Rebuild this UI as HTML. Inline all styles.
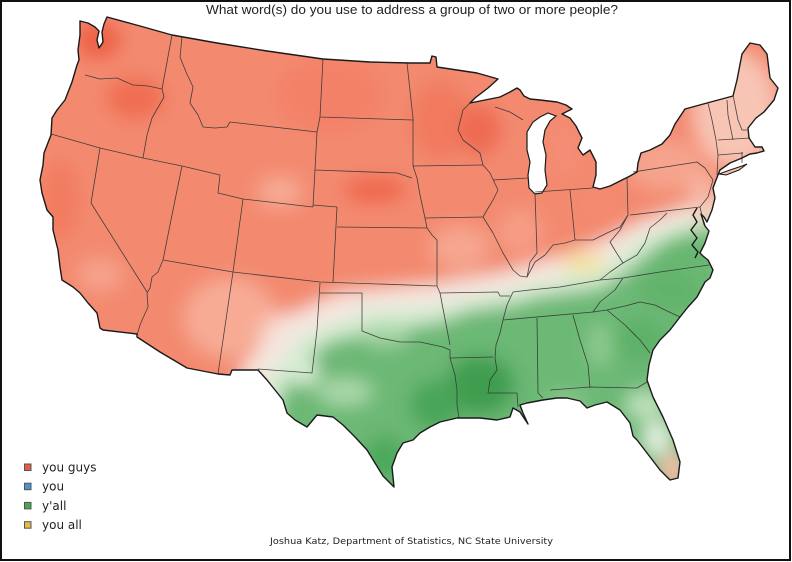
<!DOCTYPE html>
<html><head><meta charset="utf-8"><style>
html,body{margin:0;padding:0;background:#fff;}
svg{display:block;}
</style></head><body>
<svg width="792" height="562" viewBox="0 0 792 562" xmlns="http://www.w3.org/2000/svg">
<defs>
<clipPath id="us"><path id="usp" d="M80,21 L88,23 L95,27 L99,31 L97,40 L99,48 L103,42 L102,32 L104,24 L107,17 L140,26 L172,35 L217,43 L267,51 L323,59 L370,62 L410,63 L430,63 L432,56 L436,57 L437,67 L457,70 L477,73 L498,79 L488,88 L475,98 L470,103 L480,101 L500,97 L510,92 L517,88 L520,90 L524,96 L530,99 L540,100 L557,102 L566,105 L572,109 L562,114 L570,118 L576,126 L582,138 L578,148 L583,155 L590,150 L596,162 L596,175 L593,187 L600,189 L610,186 L620,181 L630,176 L637,172 L638,163 L641,153 L650,150 L662,144 L670,135 L675,124 L685,109 L707,103 L733,96 L737,80 L742,54 L750,43 L760,45 L767,54 L770,78 L778,88 L774,100 L764,112 L756,118 L748,128 L749,138 L755,147 L762,147 L764,151 L757,153 L750,154 L742,158 L730,163 L720,170 L716,180 L713,188 L715,198 L712,210 L707,222 L704,217 L701,214 L705,226 L709,231 L705,243 L700,253 L703,256 L708,260 L713,270 L710,278 L705,282 L697,297 L688,307 L680,317 L670,330 L660,340 L653,350 L649,365 L647,380 L653,397 L663,417 L673,440 L680,462 L678,478 L670,480 L660,470 L647,453 L637,440 L633,436 L630,423 L620,410 L607,402 L595,405 L587,408 L580,401 L567,398 L557,398 L543,400 L527,403 L520,405 L523,413 L528,424 L520,412 L513,408 L510,417 L497,420 L480,418 L457,418 L440,422 L430,427 L420,433 L413,440 L403,443 L397,453 L392,467 L394,487 L383,476 L375,463 L367,450 L355,437 L343,425 L333,417 L317,415 L307,427 L295,420 L287,413 L283,400 L275,390 L267,380 L258,370 L232,370 L230,375 L218,374 L187,368 L160,352 L137,337 L137,334 L103,330 L100,328 L97,313 L88,303 L80,293 L73,287 L62,280 L60,267 L58,250 L53,230 L53,217 L47,210 L42,193 L40,180 L43,165 L44,153 L51,135 L52,118 L57,110 L65,100 L72,82 L77,65 L79,60 L78,50 L80,35 Z"/></clipPath>
<filter id="bl" x="-10%" y="-10%" width="120%" height="120%"><feGaussianBlur stdDeviation="9"/></filter>
</defs>

<rect x="1" y="1" width="789" height="559" fill="#fff" stroke="#111" stroke-width="2"/>

<g clip-path="url(#us)">
<g filter="url(#bl)">
<rect x="-20" y="-20" width="840" height="600" fill="#f38a70"/>
<!-- red variations -->
<ellipse cx="330" cy="95" rx="55" ry="38" fill="#f38167"/>
<ellipse cx="98" cy="40" rx="24" ry="20" fill="#ee6246"/>
<ellipse cx="135" cy="98" rx="30" ry="22" fill="#f06e52"/>
<ellipse cx="60" cy="200" rx="20" ry="40" fill="#f27c60"/>
<ellipse cx="100" cy="275" rx="22" ry="16" fill="#f6a38c"/>
<ellipse cx="440" cy="120" rx="30" ry="40" fill="#f17a5f"/>
<ellipse cx="480" cy="130" rx="22" ry="26" fill="#ee6a52"/>
<ellipse cx="375" cy="190" rx="32" ry="14" fill="#ef684d"/>
<ellipse cx="280" cy="192" rx="22" ry="15" fill="#f7ab95"/>
<ellipse cx="600" cy="205" rx="25" ry="15" fill="#f48a70"/>
<ellipse cx="565" cy="150" rx="18" ry="25" fill="#f48d74"/>
<ellipse cx="460" cy="248" rx="30" ry="22" fill="#f6a690"/>
<ellipse cx="520" cy="232" rx="22" ry="22" fill="#f69d86"/>
<ellipse cx="665" cy="165" rx="38" ry="25" fill="#f6a48e"/>
<ellipse cx="735" cy="110" rx="42" ry="58" fill="#f8c4b4"/>
<ellipse cx="702" cy="190" rx="14" ry="18" fill="#f7b5a2"/>
<ellipse cx="230" cy="318" rx="46" ry="40" fill="#f7ab95"/>
<ellipse cx="282" cy="338" rx="22" ry="25" fill="#f6d4c8"/>
<!-- transition band -->
<polygon points="240,370 290,315 340,293 440,283 500,273 560,256 600,242 640,222 680,208 715,202 780,198 780,300 250,420" fill="#f5e6df"/>
<polygon points="262,385 300,336 360,312 440,304 500,292 560,278 610,260 640,238 680,222 715,215 780,212 780,320 270,430" fill="#d6edd3"/>
<ellipse cx="583" cy="263" rx="22" ry="10" fill="#f6e09c"/>
<!-- green -->
<polygon points="282,392 302,360 332,340 380,330 440,322 470,310 510,305 540,296 600,288 625,272 645,255 665,240 690,232 715,226 780,226 780,560 250,560" fill="#6cb874"/>
<ellipse cx="305" cy="372" rx="14" ry="14" fill="#d9eed6"/>
<ellipse cx="345" cy="392" rx="28" ry="14" fill="#a9d8a9"/>
<ellipse cx="385" cy="335" rx="25" ry="12" fill="#a4d4a4"/>
<ellipse cx="480" cy="385" rx="35" ry="30" fill="#3f9d50"/>
<ellipse cx="435" cy="405" rx="25" ry="25" fill="#4aa558"/>
<ellipse cx="385" cy="458" rx="20" ry="22" fill="#4ca85a"/>
<ellipse cx="640" cy="340" rx="25" ry="22" fill="#5db167"/>
<ellipse cx="600" cy="345" rx="12" ry="22" fill="#8fca91"/>
<ellipse cx="670" cy="290" rx="30" ry="20" fill="#62b36b"/>
<ellipse cx="682" cy="250" rx="22" ry="14" fill="#66b66f"/>
<ellipse cx="706" cy="210" rx="8" ry="14" fill="#f7c0ae"/>
<ellipse cx="565" cy="402" rx="22" ry="10" fill="#8cc98f"/>
<ellipse cx="645" cy="405" rx="20" ry="14" fill="#bfe2bd"/>
<ellipse cx="657" cy="438" rx="14" ry="18" fill="#e3f1df"/>
<ellipse cx="673" cy="470" rx="13" ry="18" fill="#f8bcab"/>
</g>
</g>

<!-- Lake Michigan -->
<path d="M527,132 L533,122 L540,117 L548,113 L556,116 L550,121 L545,130 L543,142 L546,155 L545,170 L547,185 L542,193 L535,194 L529,188 L528,175 L530,162 L527,150 Z" fill="#fff" stroke="#1a1a1a" stroke-width="1.2"/>
<!-- Long Island -->
<path d="M719,174 L730,170 L742,166 L747,164 L739,170 L726,175 Z" fill="#f8c0ae" stroke="#1a1a1a" stroke-width="1"/>

<!-- state borders -->
<g fill="none" stroke="#333" stroke-width="0.8" stroke-linejoin="round" opacity="0.9">
<path d="M85,75 L100,79 L117,78 L133,85 L148,86 L162,89"/>
<path d="M172,35 L162,89 L164,97 L152,118 L147,135 L143,158"/>
<path d="M51,134 L100,148 L143,158 L182,166 L220,175"/>
<path d="M100,148 L91,203 L147,292"/>
<path d="M182,166 L173,210 L163,260 L158,272 L152,277 L150,288 L147,293 L148,307 L143,318 L140,325 L137,335"/>
<path d="M220,175 L218,193 L243,199 L313,207"/>
<path d="M230,122 L317,132 L313,207"/>
<path d="M182,37 L180,57 L186,72 L193,87 L190,103 L198,115 L203,127 L215,128 L227,127 L230,122"/>
<path d="M323,59 L320,117 L413,120"/>
<path d="M320,117 L317,132"/>
<path d="M315,170 L397,173 L412,178"/>
<path d="M313,205 L337,207 L333,282"/>
<path d="M337,227 L427,228"/>
<path d="M413,166 L417,178 L420,195 L425,218 L427,228 L432,235 L437,240 L437,286"/>
<path d="M243,199 L233,272 L320,282 L437,286"/>
<path d="M163,260 L233,272 L218,374"/>
<path d="M258,369 L312,373 L317,330 L320,283"/>
<path d="M320,293 L362,293 L362,331 L380,338 L400,342 L420,342 L443,347 L450,350 L450,358 L455,375 L457,390 L457,405 L459,418"/>
<path d="M437,286 L440,293 L450,345"/>
<path d="M450,358 L493,357"/>
<path d="M440,293 L498,292 L500,296 L510,296"/>
<path d="M425,218 L483,217"/>
<path d="M413,166 L483,165"/>
<path d="M407,63 L413,118 L413,166"/>
<path d="M470,103 L463,110 L458,130 L463,140 L480,153 L483,165 L490,173 L498,190 L493,200 L487,210 L483,217 L493,233 L503,253 L513,270 L520,276 L527,277"/>
<path d="M493,180 L528,178"/>
<path d="M495,107 L510,112 L523,120"/>
<path d="M535,193 L537,253 L530,262 L527,277 L535,262 L545,255 L553,245 L565,243 L575,240 L585,240 L593,240 L607,233 L620,227 L628,215 L627,178"/>
<path d="M570,190 L575,240"/>
<path d="M535,192 L593,188"/>
<path d="M633,172 L697,162 L705,168 L713,180 L708,197 L700,207 L630,215"/>
<path d="M628,215 L620,230 L610,242 L616,252 L623,263 L637,255 L645,243 L650,228 L660,220 L667,213"/>
<path d="M623,263 L610,272 L600,280"/>
<path d="M513,292 L530,290 L560,287 L600,280 L623,278 L660,272 L709,265"/>
<path d="M623,278 L615,290 L600,302 L593,312"/>
<path d="M513,292 L507,305 L503,320 L593,312"/>
<path d="M593,312 L607,310 L625,306 L640,302 L655,305 L665,310 L680,317"/>
<path d="M607,310 L625,325 L640,340 L650,353"/>
<path d="M573,315 L580,340 L588,365 L590,388"/>
<path d="M537,318 L538,393 L543,398"/>
<path d="M550,390 L590,387 L637,388 L647,382"/>
<path d="M503,320 L500,333 L496,345 L495,358 L497,370 L490,380 L488,393 L517,393 L518,407"/>
<path d="M708,103 L712,120 L716,140 L718,155 L717,175"/>
<path d="M727,100 L728,115 L733,140"/>
<path d="M733,95 L738,120 L742,130 L747,130"/>
<path d="M718,140 L750,138"/>
<path d="M718,155 L743,153"/>
<path d="M742,152 L742,163"/>
<path d="M700,207 L704,225"/>
</g>
<!-- Chesapeake -->
<path d="M697,208 L693,215 L697,222 L691,230 L697,238 L692,245 L698,252 L695,258" fill="none" stroke="#1a1a1a" stroke-width="1.4"/>

<use href="#usp" fill="none" stroke="#1a1a1a" stroke-width="1.4" stroke-linejoin="round"/>

<text x="206" y="14" font-family="Liberation Sans, Arial, sans-serif" font-size="13" fill="#222" textLength="412" lengthAdjust="spacingAndGlyphs">What word(s) do you use to address a group of two or more people?</text>

<g font-family="DejaVu Sans, Verdana, sans-serif" font-size="12" fill="#222">
<rect x="24.5" y="464" width="6.5" height="6.5" fill="#e85a48" stroke="#555" stroke-width="1"/>
<text x="42" y="471.5">you guys</text>
<rect x="24.5" y="483.2" width="6.5" height="6.5" fill="#4f93cf" stroke="#555" stroke-width="1"/>
<text x="42" y="490.7">you</text>
<rect x="24.5" y="502.4" width="6.5" height="6.5" fill="#4aa851" stroke="#555" stroke-width="1"/>
<text x="42" y="509.9">y'all</text>
<rect x="24.5" y="521.7" width="6.5" height="6.5" fill="#e5bb42" stroke="#555" stroke-width="1"/>
<text x="42" y="529.2">you all</text>
</g>

<text x="270" y="544" font-family="DejaVu Sans, Verdana, sans-serif" font-size="9" fill="#222" textLength="283" lengthAdjust="spacingAndGlyphs">Joshua Katz, Department of Statistics, NC State University</text>
</svg>
</body></html>
